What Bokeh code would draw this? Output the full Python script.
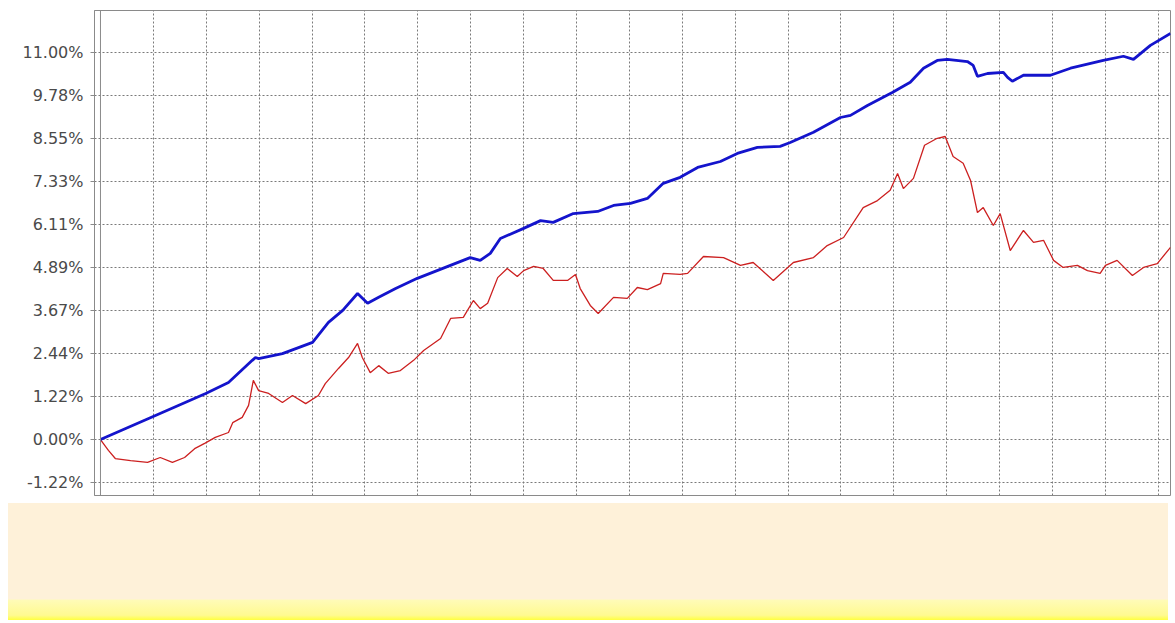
from bokeh.plotting import figure
from bokeh.models import FixedTicker, Span, Div, Range1d
from bokeh.layouts import column
from bokeh.embed import file_html
from bokeh.resources import INLINE

# ---- data (cumulative return, %) ----
blue_x = [0, 0.91, 1.99, 2.42, 2.87, 2.93, 2.99, 3.44, 4.01, 4.31, 4.58, 4.86, 5.05, 5.26,
          5.58, 5.99, 6.99, 7.18, 7.37, 7.56, 8.00, 8.32, 8.56, 8.94, 9.40, 9.70, 10.02,
          10.34, 10.64, 10.96, 11.29, 11.72, 12.04, 12.42, 12.85, 13.04, 13.48, 13.99,
          14.18, 14.50, 14.97, 15.31, 15.56, 15.82, 16.01, 16.39, 16.50, 16.58, 16.77,
          17.07, 17.15, 17.24, 17.45, 17.96, 18.34, 18.96, 19.34, 19.53, 19.85, 20.23]
blue_y = [0, 0.60, 1.31, 1.62, 2.25, 2.33, 2.30, 2.44, 2.76, 3.33, 3.67, 4.15, 3.87, 4.04,
          4.29, 4.58, 5.17, 5.09, 5.29, 5.71, 6.00, 6.22, 6.17, 6.42, 6.48, 6.65, 6.71,
          6.85, 7.28, 7.45, 7.73, 7.90, 8.13, 8.30, 8.33, 8.44, 8.73, 9.15,
          9.21, 9.49, 9.86, 10.15, 10.55, 10.77, 10.80, 10.74, 10.63, 10.32, 10.40,
          10.43, 10.29, 10.18, 10.35, 10.35, 10.55, 10.77, 10.89, 10.80, 11.20, 11.54]

red_x = [0, 0.15, 0.28, 0.57, 0.89, 1.13, 1.36, 1.59, 1.78, 1.97, 2.17, 2.42, 2.50, 2.68,
         2.80, 2.89, 2.99, 3.18, 3.44, 3.63, 3.88, 4.12, 4.25, 4.50, 4.69, 4.86, 4.95,
         5.10, 5.26, 5.44, 5.67, 5.92, 6.11, 6.43, 6.62, 6.86, 7.05, 7.18, 7.32, 7.51,
         7.69, 7.88, 8.00, 8.19, 8.37, 8.56, 8.83, 8.98, 9.07, 9.26, 9.41, 9.70, 9.96,
         10.15, 10.34, 10.59, 10.64, 10.96, 11.10, 11.40, 11.78, 12.10, 12.34, 12.72,
         13.10, 13.48, 13.74, 14.05, 14.42, 14.69, 14.93, 15.07, 15.18, 15.37, 15.58,
         15.82, 15.97, 16.12, 16.31, 16.45, 16.58, 16.69, 16.88, 17.01, 17.20, 17.45,
         17.64, 17.83, 18.02, 18.20, 18.47, 18.66, 18.90, 19.00, 19.22, 19.51, 19.72,
         19.98, 20.23]
red_y = [0, -0.31, -0.54, -0.60, -0.65, -0.51, -0.65, -0.51, -0.26, -0.11, 0.06, 0.20, 0.48,
         0.63, 0.97, 1.68, 1.39, 1.31, 1.05, 1.25, 1.02, 1.25, 1.59, 2.02, 2.33, 2.73, 2.33,
         1.90, 2.10, 1.88, 1.96, 2.25, 2.53, 2.87, 3.44, 3.47, 3.95, 3.72, 3.87, 4.60,
         4.86, 4.63, 4.80, 4.92, 4.86, 4.52, 4.52, 4.69, 4.29, 3.81, 3.58, 4.04, 4.01,
         4.32, 4.26, 4.43, 4.72, 4.69, 4.72, 5.20, 5.17, 4.95, 5.03, 4.52,
         5.03, 5.17, 5.51, 5.74, 6.59, 6.79, 7.08, 7.56, 7.13, 7.42, 8.36,
         8.56, 8.61, 8.04, 7.85, 7.36, 6.45, 6.59, 6.08, 6.42, 5.37, 5.94,
         5.60, 5.66, 5.09, 4.89, 4.95, 4.80, 4.72, 4.95, 5.09, 4.66, 4.89,
         5.00, 5.46]

y_ticks = [-1.22, 0.00, 1.22, 2.44, 3.67, 4.89, 6.11, 7.33, 8.55, 9.78, 11.00]
y_labels = ["-1.22%", "0.00%", "1.22%", "2.44%", "3.67%", "4.89%", "6.11%",
            "7.33%", "8.55%", "9.78%", "11.00%"]
x_ticks = list(range(1, 21))

p = figure(width=1172, height=503, output_backend="svg", toolbar_location=None,
           x_range=Range1d(-0.113, 20.23), y_range=Range1d(-1.59, 12.19),
           min_border_left=94, min_border_right=2, min_border_top=10, min_border_bottom=8)
p.background_fill_color = "white"
p.border_fill_color = "white"
p.outline_line_color = "#8a8a8a"
p.outline_line_width = 1

p.xaxis.visible = False
p.xaxis.ticker = FixedTicker(ticks=x_ticks)
p.xgrid.ticker = FixedTicker(ticks=x_ticks)

p.yaxis.ticker = FixedTicker(ticks=y_ticks)
p.yaxis.major_label_overrides = {t: l for t, l in zip(y_ticks, y_labels)}
p.yaxis.minor_tick_line_color = None
p.yaxis.major_tick_out = 4
p.yaxis.major_tick_in = 0
p.yaxis.major_tick_line_color = "#8a8a8a"
p.yaxis.axis_line_color = "#8a8a8a"
p.yaxis.major_label_standoff = 7
p.yaxis.major_label_text_font = "DejaVu Sans"
p.yaxis.major_label_text_font_size = "16px"
p.yaxis.major_label_text_color = "#4a4a4a"

for g in (p.xgrid, p.ygrid):
    g.grid_line_color = "#7a7a7a"
    g.grid_line_dash = "2 2"
    g.grid_line_width = 1

p.add_layout(Span(location=0, dimension="height", line_color="#8a8a8a", line_width=1))

p.line(red_x, red_y, line_color="#cc2020", line_width=1.3)
p.line(blue_x, blue_y, line_color="#1414cc", line_width=2.8)

band = Div(text="", width=1160, height=117, margin=(0, 0, 0, 8),
           styles={"background": "linear-gradient(to bottom, #fef1d9 0%, #fef1d9 82%, #fffbb8 83%, #fffa90 96%, #ffff40 100%)"})

layout = column(p, band, spacing=0)
open("out.html", "w").write(file_html(layout, INLINE))
